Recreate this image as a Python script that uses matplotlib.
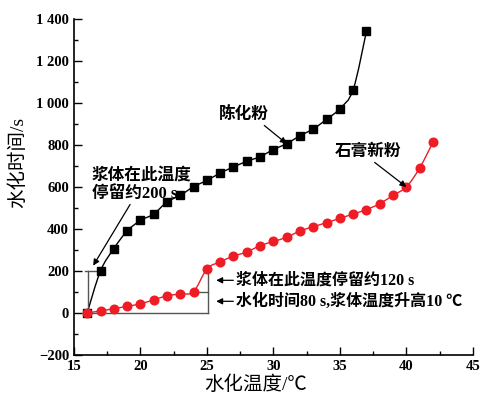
import matplotlib
matplotlib.use('Agg')
import matplotlib.pyplot as plt
from matplotlib.path import Path
import matplotlib.patches as patches

plt.rcParams['font.family'] = ['Liberation Serif', 'Noto Sans CJK SC', 'DejaVu Sans']
plt.rcParams['font.weight'] = 'bold'

# data
temp_aged = [16, 17, 18, 19, 20, 21, 22, 23, 24, 25, 26, 27, 28, 29, 30, 31, 32, 33, 34, 35, 36, 37]
time_aged = [0, 200, 306, 390, 440, 471, 528, 560, 601, 631, 666, 695, 722, 744, 778, 806, 844, 876,
             922, 973, 1063, 1341]
temp_fresh = [16, 17, 18, 19, 20, 21, 22, 23, 24, 25, 26, 27, 28, 29, 30, 31, 32, 33, 34, 35, 36, 37,
              38, 39, 40, 41, 42]
time_fresh = [0, 9, 20, 31, 43, 62, 81, 90, 101, 209, 243, 270, 290, 320, 340, 360, 390, 410, 430,
              450, 471, 492, 520, 560, 600, 690, 812]
y_ticks = [-200, 0, 200, 400, 600, 800, 1000, 1200, 1400]
y_labels = ['\u2212200', '0', '200', '400', '600', '800', '1 000', '1 200', '1 400']
x_ticks = [15, 20, 25, 30, 35, 40, 45]

RED = '#ee1c25'


# smooth curve through the points (Catmull-Rom drawn as cubic Bezier)
def smooth_patch(x, y, color):
    verts = [(x[0], y[0])]
    codes = [Path.MOVETO]
    n = len(x)
    for i in range(n - 1):
        x0, y0 = (x[i - 1], y[i - 1]) if i > 0 else (x[i], y[i])
        x1, y1 = x[i], y[i]
        x2, y2 = x[i + 1], y[i + 1]
        x3, y3 = (x[i + 2], y[i + 2]) if i + 2 < n else (x2, y2)
        c1 = (x1 + (x2 - x0) / 6.0, y1 + (y2 - y0) / 6.0)
        c2 = (x2 - (x3 - x1) / 6.0, y2 - (y3 - y1) / 6.0)
        verts += [c1, c2, (x2, y2)]
        codes += [Path.CURVE4] * 3
    return patches.PathPatch(Path(verts, codes), facecolor='none', edgecolor=color, lw=1.0)


fig = plt.figure(figsize=(4.8, 3.96), dpi=100)
ax = fig.add_axes([0.154, 0.104, 0.831, 0.848])

ax.add_patch(smooth_patch(temp_aged, time_aged, 'black'))
ax.add_patch(smooth_patch(temp_fresh, time_fresh, RED))
ax.plot(temp_aged, time_aged, 's', color='black', ms=6, zorder=3)
ax.plot(temp_fresh, time_fresh, 'o', color=RED, ms=6.2, zorder=3)

# bracket lines
g = '#555555'
ax.plot([15.85, 25.05], [0, 0], color=g, lw=1.0)
ax.plot([25.05, 25.05], [0, 209], color=g, lw=1.0)
ax.plot([24, 25.05], [101, 101], color=g, lw=1.0)
ax.plot([15.85, 17], [200, 200], color=g, lw=1.0)
ax.plot([16.05, 16.05], [0, 200], color=g, lw=1.0)

ap = dict(arrowstyle='-|>', color='black', lw=0.9, mutation_scale=9, shrinkA=0, shrinkB=0)
fs = 12
ax.annotate('陈化粉', xy=(31, 806), xytext=(27.75, 944), ha='center', va='center',
            fontsize=fs, zorder=5, arrowprops=dict(ap, relpos=(0.85, 0.0)))
ax.annotate('石膏新粉', xy=(40, 600), xytext=(37.1, 768), ha='center', va='center',
            fontsize=fs, zorder=5, arrowprops=dict(ap, relpos=(0.55, 0.0)))
ax.annotate('浆体在此温度\n停留约200 s', xy=(16.45, 225), xytext=(16.35, 610),
            ha='left', va='center', fontsize=fs, linespacing=1.15, zorder=5,
            arrowprops=dict(ap, relpos=(0.4, 0.0)))
ax.annotate('浆体在此温度停留约120 s', xy=(25.7, 155), xytext=(27.2, 155),
            ha='left', va='center', fontsize=fs - 0.5,
            arrowprops=dict(ap, relpos=(0.0, 0.5)))
ax.annotate('水化时间80 s,浆体温度升高10 ℃', xy=(25.7, 55), xytext=(27.2, 55),
            ha='left', va='center', fontsize=fs - 0.5,
            arrowprops=dict(ap, relpos=(0.0, 0.5)))

ax.set_xlim(15, 45)
ax.set_ylim(-200, 1400)
ax.set_xticks(x_ticks)
ax.set_xticks([17.5, 22.5, 27.5, 32.5, 37.5, 42.5], minor=True)
ax.set_yticks(y_ticks)
ax.set_yticklabels(y_labels)
ax.set_yticks([-100, 100, 300, 500, 700, 900, 1100, 1300], minor=True)
ax.tick_params(which='both', direction='in', labelsize=10.5, width=1.0)
ax.tick_params(which='major', length=6)
ax.tick_params(which='minor', length=3)
for s in ['top', 'right']:
    ax.spines[s].set_visible(False)
for s in ['left', 'bottom']:
    ax.spines[s].set_linewidth(1.2)

ax.set_xlabel('水化温度/℃', fontsize=14)
ax.set_ylabel('水化时间/s', fontsize=14)
ax.xaxis.set_label_coords(0.456, -0.06)
ax.yaxis.set_label_coords(-0.117, 0.574)

fig.savefig('out.png', dpi=100)
